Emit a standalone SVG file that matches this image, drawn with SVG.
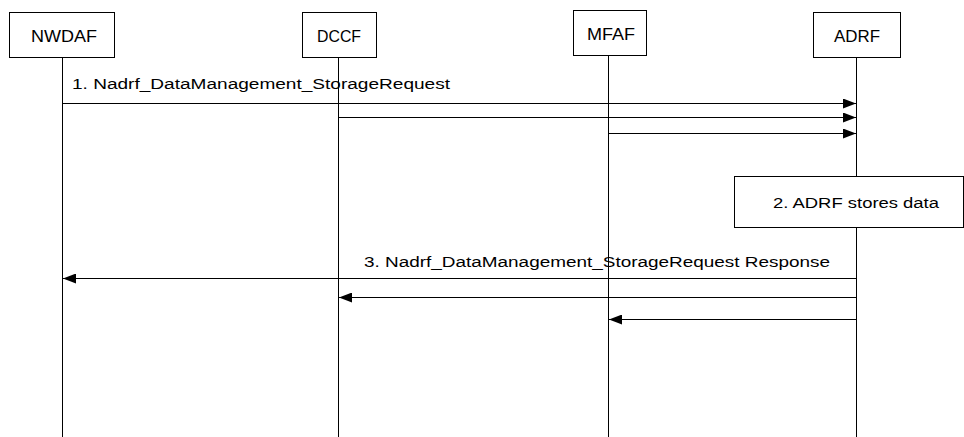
<svg xmlns="http://www.w3.org/2000/svg" width="964" height="437" viewBox="0 0 964 437">
<style>
.box{fill:#fff;stroke:#000;stroke-width:1}
.life{stroke:#000;stroke-width:1}
.msg{stroke:#000;stroke-width:1;fill:none}
text{font-family:"Liberation Sans",Arial,sans-serif;font-size:15.5px;fill:#000}
.nl{font-size:16px}
</style>
<defs>
<marker id="ah" markerWidth="13" markerHeight="10" refX="13" refY="5" orient="auto" markerUnits="userSpaceOnUse">
<path d="M0,0 L13,5 L0,10 Z" fill="#000"/>
</marker>
</defs>
<g id="lifelines">
<line class="life" x1="62.5" y1="58" x2="62.5" y2="437"/>
<line class="life" x1="338.5" y1="58" x2="338.5" y2="437"/>
<line class="life" x1="608.5" y1="56" x2="608.5" y2="437"/>
<line class="life" x1="856.5" y1="58" x2="856.5" y2="437"/>
</g>
<g id="NWDAF">
<rect class="box" x="9.5" y="12.5" width="105" height="45"/>
<text class="nl" x="31" y="41.5" textLength="66" lengthAdjust="spacingAndGlyphs">NWDAF</text>
</g>
<g id="DCCF">
<rect class="box" x="302.5" y="12.5" width="74" height="45"/>
<text class="nl" x="317" y="41.5" textLength="44" lengthAdjust="spacingAndGlyphs">DCCF</text>
</g>
<g id="MFAF">
<rect class="box" x="573.5" y="10.5" width="73" height="45"/>
<text class="nl" x="587" y="39.5" textLength="48" lengthAdjust="spacingAndGlyphs">MFAF</text>
</g>
<g id="ADRF">
<rect class="box" x="813.5" y="12.5" width="87" height="45"/>
<text class="nl" x="834" y="41.5" textLength="46" lengthAdjust="spacingAndGlyphs">ADRF</text>
</g>
<g id="step2">
<rect class="box" x="734.5" y="176.5" width="229" height="51"/>
<text x="773" y="208" textLength="166" lengthAdjust="spacingAndGlyphs">2. ADRF stores data</text>
</g>
<g id="connectors">
<line class="msg" x1="62.5" y1="103.5" x2="856" y2="103.5" marker-end="url(#ah)"/>
<line class="msg" x1="338.5" y1="117.5" x2="856" y2="117.5" marker-end="url(#ah)"/>
<line class="msg" x1="608.5" y1="133.5" x2="856" y2="133.5" marker-end="url(#ah)"/>
<text x="72" y="89" textLength="378" lengthAdjust="spacingAndGlyphs">1. Nadrf_DataManagement_StorageRequest</text>
<line class="msg" x1="857" y1="278.5" x2="63" y2="278.5" marker-end="url(#ah)"/>
<line class="msg" x1="856.5" y1="297.5" x2="339" y2="297.5" marker-end="url(#ah)"/>
<line class="msg" x1="856.5" y1="319.5" x2="609" y2="319.5" marker-end="url(#ah)"/>
<text x="364" y="267" textLength="466" lengthAdjust="spacingAndGlyphs">3. Nadrf_DataManagement_StorageRequest Response</text>
</g>
</svg>
